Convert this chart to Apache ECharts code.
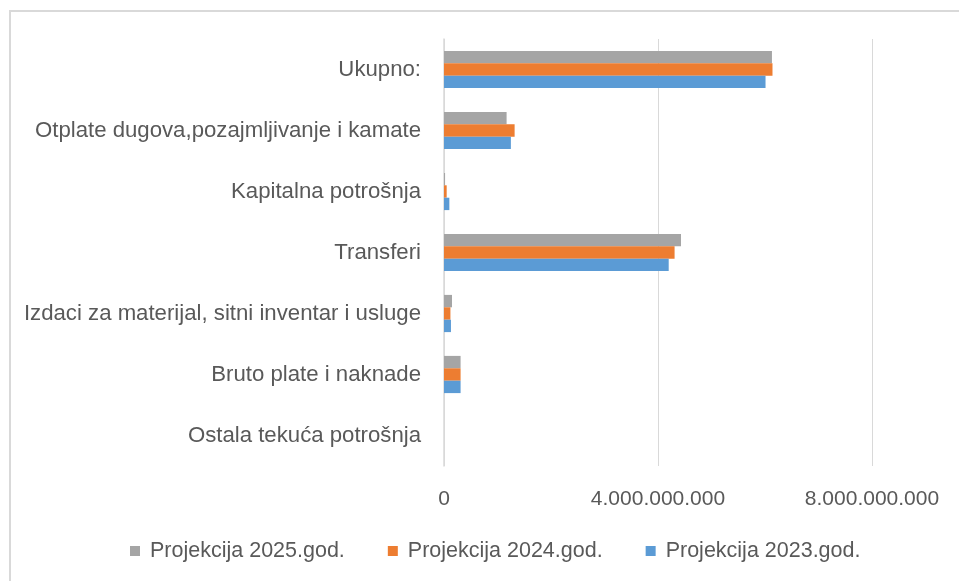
<!DOCTYPE html>
<html>
<head>
<meta charset="utf-8">
<script src="https://cdn.jsdelivr.net/npm/echarts@6/dist/echarts.min.js"></script>
<style>
html,body{margin:0;padding:0;background:#fff;}
#c{width:959px;height:581px;}
</style>
</head>
<body>
<div id="c"></div>
<script>
const categories = ['Ostala tekuća potrošnja', 'Bruto plate i naknade', 'Izdaci za materijal, sitni inventar i usluge', 'Transferi', 'Kapitalna potrošnja', 'Otplate dugova,pozajmljivanje i kamate', 'Ukupno:'];
const seriesNames = ['Projekcija 2025.god.', 'Projekcija 2024.god.', 'Projekcija 2023.god.'];
const values2025 = [0, 310000000, 150000000, 4430000000, 20000000, 1170000000, 6130000000];
const values2024 = [0, 310000000, 120000000, 4310000000, 50000000, 1320000000, 6140000000];
const values2023 = [0, 310000000, 130000000, 4200000000, 100000000, 1250000000, 6010000000];
const xTicks = { min: 0, max: 8000000000, interval: 4000000000 };
const colors = ['#A5A5A5', '#ED7D31', '#5B9BD5'];

const FONT = 'Liberation Sans';
const fmt = v => String(v).replace(/\B(?=(\d{3})+(?!\d))/g, '.');

const chart = echarts.init(document.getElementById('c'));
chart.setOption({
  animation: false,
  textStyle: { fontFamily: FONT },
  graphic: [{
    type: 'rect', silent: true, z: -1,
    shape: { x: 10, y: 11, width: 970, height: 600 },
    style: { fill: 'none', stroke: '#d9d9d9', lineWidth: 2 }
  }],
  grid: { left: 444, right: 87, top: 39, bottom: 115, containLabel: false },
  legend: {
    left: 125, top: 535,
    itemWidth: 10, itemHeight: 10, itemGap: 43,
    icon: 'rect',
    data: seriesNames,
    textStyle: { fontFamily: FONT, fontSize: 21.5, color: '#595959', padding: [0, 0, 0, 5] }
  },
  xAxis: {
    type: 'value', min: xTicks.min, max: xTicks.max, interval: xTicks.interval,
    axisLine: { show: false }, axisTick: { show: false },
    splitLine: { lineStyle: { color: '#d9d9d9', width: 1 } },
    axisLabel: { formatter: fmt, fontSize: 21, color: '#595959', margin: 23, fontFamily: FONT }
  },
  yAxis: {
    type: 'category', data: categories,
    axisLine: { lineStyle: { color: '#d9d9d9', width: 1.5 } },
    axisTick: { show: false },
    axisLabel: { fontSize: 22.2, color: '#595959', margin: 23, fontFamily: FONT, padding: [5, 0, 0, 0] }
  },
  series: [
    { name: seriesNames[0], type: 'bar', data: values2025, itemStyle: { color: colors[0] }, barGap: '0%', barCategoryGap: '39%' },
    { name: seriesNames[1], type: 'bar', data: values2024, itemStyle: { color: colors[1] }, barGap: '0%', barCategoryGap: '39%' },
    { name: seriesNames[2], type: 'bar', data: values2023, itemStyle: { color: colors[2] }, barGap: '0%', barCategoryGap: '39%' }
  ]
});
</script>
</body>
</html>
